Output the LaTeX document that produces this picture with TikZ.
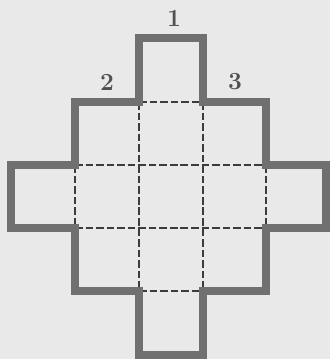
\documentclass[tikz,border=0pt]{standalone}
\definecolor{paper}{RGB}{233,233,233}
\definecolor{edgegray}{RGB}{112,112,112}
\definecolor{foldgray}{RGB}{60,60,60}
\definecolor{numgray}{RGB}{80,80,80}
\usepackage{tikz}

\begin{document}
\begin{tikzpicture}[x=0.03cm, y=-0.03cm,
  outline/.style={draw=edgegray, line width=6.4pt, line join=miter},
  fold/.style={draw=foldgray, line width=1.4pt, dash pattern=on 6.5pt off 2.5pt},
  num/.style={text=numgray, font=\fontsize{21}{23}\selectfont\bfseries}
]
\fill[paper] (0,0) rectangle (330,359);
\useasboundingbox (0,0) rectangle (330,359);
% fold lines
\draw[fold] (139,102) -- (203,102);
\draw[fold] (75,165) -- (266,165);
\draw[fold] (75,228) -- (266,228);
\draw[fold] (139,291) -- (203,291);
\draw[fold] (139,102) -- (139,291);
\draw[fold] (203,102) -- (203,291);
\draw[fold] (75,165) -- (75,228);
\draw[fold] (266,165) -- (266,228);
% cut outline
\draw[outline] (139,38) -- (203,38) -- (203,102) -- (266,102) -- (266,165)
  -- (326,165) -- (326,228) -- (266,228) -- (266,291) -- (203,291)
  -- (203,355) -- (139,355) -- (139,291) -- (75,291) -- (75,228)
  -- (11,228) -- (11,165) -- (75,165) -- (75,102) -- (139,102) -- cycle;
% labels
\node[num] (one) at (174,18) {1};
\node[num] (two) at (107,82) {2};
\node[num] (three) at (235,82) {3};
\end{tikzpicture}
\end{document}
